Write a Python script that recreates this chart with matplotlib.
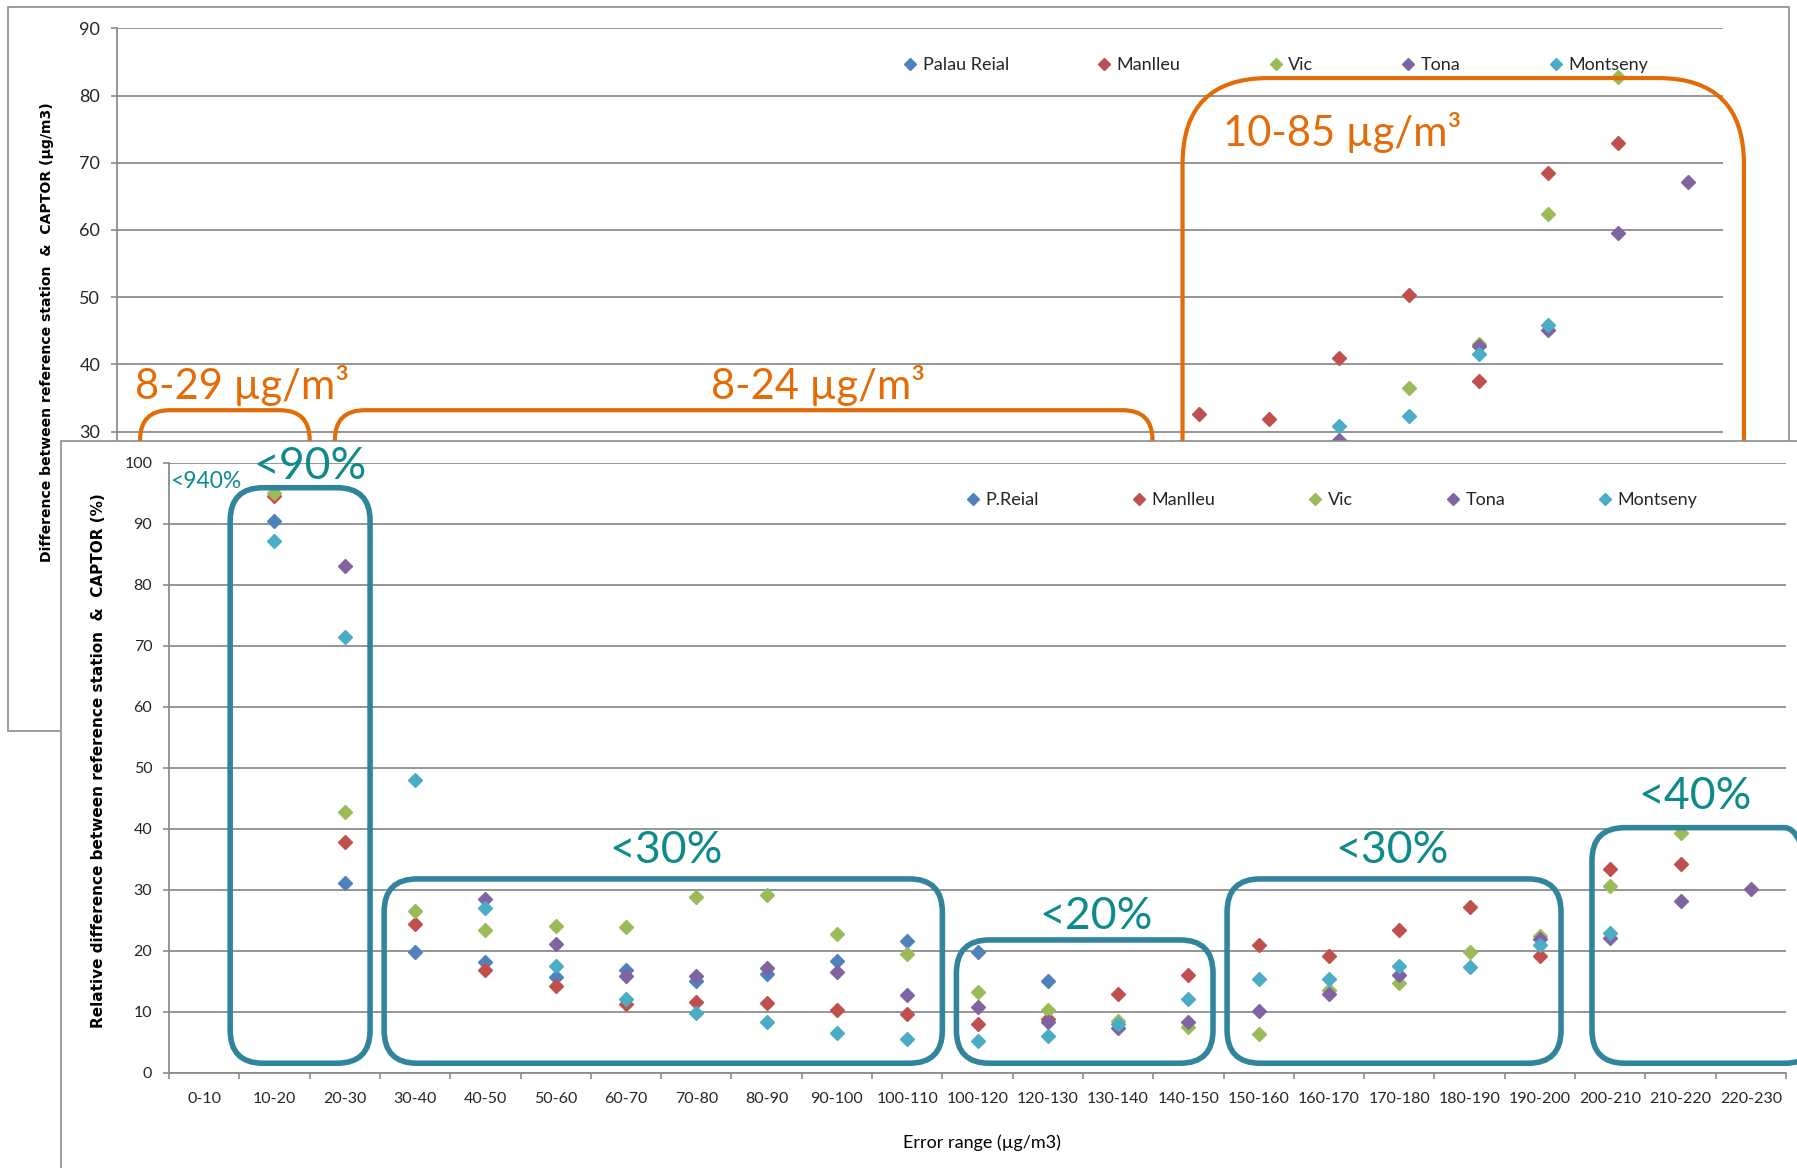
import numpy as np
import matplotlib
matplotlib.use('Agg')
import matplotlib.pyplot as plt
from matplotlib.patches import Rectangle, FancyBboxPatch
from matplotlib.transforms import IdentityTransform

plt.rcParams['font.family'] = ['Lato', 'DejaVu Sans']

W, H, DPI = 1797, 1168, 100
nan = np.nan

categories = ['0-10', '10-20', '20-30', '30-40', '40-50', '50-60', '60-70', '70-80',
              '80-90', '90-100', '100-110', '100-120', '120-130', '130-140', '140-150',
              '150-160', '160-170', '170-180', '180-190', '190-200', '200-210',
              '210-220', '220-230']

stations_abs = ['Palau Reial', 'Manlleu', 'Vic', 'Tona', 'Montseny']
stations_rel = ['P.Reial', 'Manlleu', 'Vic', 'Tona', 'Montseny']
station_colors = ['#4F81BD', '#C0504D', '#9BBB59', '#8064A2', '#4BACC6']

# absolute difference reference station vs CAPTOR (ug/m3), one value per error range
abs_palau = [nan] * 23
abs_manlleu = [nan, nan, nan, nan, nan, nan, nan, nan, nan, nan, nan, nan, nan, nan, nan,
               32.7, 31.9, 41.0, 50.4, 37.5, 68.5, 72.9, nan]
abs_vic = [nan, nan, nan, nan, nan, nan, nan, nan, nan, nan, nan, nan, nan, nan, nan,
           nan, nan, nan, 36.5, 43.1, 62.4, 82.8, nan]
abs_tona = [nan, nan, nan, nan, nan, nan, nan, nan, nan, nan, nan, nan, nan, nan, nan,
            nan, nan, 28.7, nan, 42.8, 45.1, 59.5, 67.1]
abs_montseny = [nan, nan, nan, nan, nan, nan, nan, nan, nan, nan, nan, nan, nan, nan, nan,
                nan, nan, 30.8, 32.4, 41.6, 45.9, nan, nan]

# relative difference (%)
rel_preial = [nan, 90.5, 31.2, 19.9, 18.2, 15.7, 16.8, 15.1, 16.3, 18.3, 21.7, 19.9, 15.1,
              nan, nan, nan, nan, nan, nan, nan, nan, nan, nan]
rel_manlleu = [nan, 94.5, 37.9, 24.4, 16.8, 14.3, 11.3, 11.7, 11.5, 10.4, 9.7, 8.0, 8.9,
               12.9, 16.0, 20.9, 19.2, 23.5, 27.2, 19.1, 33.5, 34.3, nan]
rel_vic = [nan, 95.0, 42.8, 26.5, 23.5, 24.1, 24.0, 28.9, 29.2, 22.7, 19.5, 13.2, 10.4,
           8.6, 7.6, 6.4, 13.6, 14.8, 19.8, 22.4, 30.7, 39.3, nan]
rel_tona = [nan, nan, 83.0, nan, 28.5, 21.1, 15.9, 15.9, 17.2, 16.5, 12.7, 10.8, 8.4,
            7.4, 8.4, 10.1, 13.0, 16.0, nan, 22.0, 22.1, 28.2, 30.1]
rel_montseny = [nan, 87.1, 71.5, 48.0, 27.0, 17.5, 12.1, 9.8, 8.3, 6.5, 5.5, 5.2, 6.0,
                8.1, 12.2, 15.4, 15.4, 17.6, 17.4, 21.0, 23.0, nan, nan]

# highlighted ranges: label, first/last x (category units), top value, label position
abs_groups = [('8-29 µg/m³', -0.17, 2.26, 33.2, 1.29, 36.8, 30),
              ('8-24 µg/m³', 2.62, 14.33, 33.2, 9.54, 36.8, 30),
              ('10-85 µg/m³', 14.76, 22.8, 82.6, 17.04, 74.5, 86)]
rel_groups = [('<90%', 0.37, 2.36, 95.9, 1.5, 99.3),
              ('<30%', 2.56, 10.5, 31.8, 6.57, 36.5),
              ('<20%', 10.7, 14.35, 21.8, 12.68, 25.6),
              ('<30%', 14.55, 19.3, 31.8, 16.9, 36.5),
              ('<40%', 19.74, 22.95, 40.2, 21.2, 45.3)]

ORANGE = '#E36C09'
TEAL_BOX = '#31849B'
TEAL_TXT = '#0F8A8A'
GRID = '#8C8C8C'
FRAME = '#8C8C8C'
TXT = '#262626'


def fig_rect(left, top, right, bottom):
    return [left / W, 1 - bottom / H, (right - left) / W, (bottom - top) / H]


def rounded_box(ax, x0, x1, y0, y1, radius, color, lw):
    (px0, py0), (px1, py1) = ax.transData.transform([(x0, y0), (x1, y1)])
    box = FancyBboxPatch((px0, py0), px1 - px0, py1 - py0,
                         boxstyle=f'round,pad=0,rounding_size={radius}',
                         transform=IdentityTransform(), fill=False,
                         ec=color, lw=lw, clip_on=False, zorder=5)
    ax.add_artist(box)


def style_axes(ax, ymin_tick, ymax, tick_size):
    ax.set_facecolor('none')
    ax.set_xlim(-0.5, len(categories) - 0.5)
    ax.set_ylim(0, ymax)
    ax.set_yticks(np.arange(ymin_tick, ymax + 1, 10))
    ax.yaxis.grid(True, color=GRID, lw=1.3)
    ax.set_axisbelow(True)
    for s in ['top', 'right']:
        ax.spines[s].set_visible(False)
    for s in ['left', 'bottom']:
        ax.spines[s].set_color(GRID)
        ax.spines[s].set_linewidth(1.3)
    ax.tick_params(axis='y', length=4, width=1.2, color=GRID, pad=8,
                   labelsize=tick_size, labelcolor=TXT)
    ax.set_xticks(range(len(categories)))
    ax.set_xticklabels(categories)
    ax.set_xticks(np.arange(-0.5, len(categories)), minor=True)
    ax.tick_params(axis='x', which='major', length=0, pad=14,
                   labelsize=11.5, labelcolor=TXT)
    ax.tick_params(axis='x', which='minor', length=4, width=1.2, color=GRID)


fig = plt.figure(figsize=(W / DPI, H / DPI), dpi=DPI)
fig.patch.set_facecolor('white')

# ---- absolute difference chart (behind) ----
fig.add_artist(Rectangle((8 / W, 1 - 731 / H), (1789 - 8) / W, (731 - 7) / H,
                         transform=fig.transFigure, fc='white', ec=FRAME, lw=1.2,
                         zorder=0.5))
ax1 = fig.add_axes(fig_rect(117, 28.3, 1723, 633.4), zorder=1)
# lower part of this chart sits under the second one
style_axes(ax1, 30, 90, 13)
ax1.tick_params(axis='x', labelbottom=False)
abs_series = [abs_palau, abs_manlleu, abs_vic, abs_tona, abs_montseny]
for name, vals, c in zip(stations_abs, abs_series, station_colors):
    ax1.plot(range(len(categories)), vals, ls='none', marker='D', ms=7.5, color=c,
             label=name, zorder=3)
ax1.legend(loc='center left', bbox_to_anchor=(903 / W, 1 - 65 / H),
           bbox_transform=fig.transFigure, ncol=5, frameon=False, fontsize=13,
           handlelength=0.8, handletextpad=0.3, columnspacing=4.86, borderpad=0,
           borderaxespad=0, markerscale=0.75, labelcolor=TXT)
for label, x0, x1, top, tx, ty, r in abs_groups:
    rounded_box(ax1, x0, x1, 0, top, r, ORANGE, 3)
    ax1.text(tx, ty, label, color=ORANGE, fontsize=30, ha='center', va='center',
             zorder=6)
fig.text(47 / W, 1 - 332 / H,
         'Difference between reference station  &  CAPTOR (µg/m3)',
         rotation=90, ha='center', va='center', fontsize=10.1, fontweight='bold',
         family='DejaVu Sans', color='black')

# ---- relative difference chart (front) ----
fig.add_artist(Rectangle((61 / W, 1 - 1250 / H), 1800 / W, (1250 - 441) / H,
                         transform=fig.transFigure, fc='white', ec=FRAME, lw=1.2,
                         zorder=2))
ax2 = fig.add_axes(fig_rect(169, 462.7, 1786, 1073), zorder=3)
style_axes(ax2, 0, 100, 11.5)
rel_series = [rel_preial, rel_manlleu, rel_vic, rel_tona, rel_montseny]
for name, vals, c in zip(stations_rel, rel_series, station_colors):
    ax2.plot(range(len(categories)), vals, ls='none', marker='D', ms=7.5, color=c,
             label=name, zorder=3, clip_on=False)
ax2.legend(loc='center left', bbox_to_anchor=(966 / W, 1 - 500 / H),
           bbox_transform=fig.transFigure, ncol=5, frameon=False, fontsize=13,
           handlelength=0.8, handletextpad=0.3, columnspacing=5.12, borderpad=0,
           borderaxespad=0, markerscale=0.75, labelcolor=TXT)
for label, x0, x1, top, tx, ty in rel_groups:
    rounded_box(ax2, x0, x1, 1.6, top, 33, TEAL_BOX, 4)
    ax2.text(tx, ty, label, color=TEAL_TXT, fontsize=32, ha='center', va='center',
             zorder=6)
ax2.text(0.02, 96.9, '<940%', color=TEAL_TXT, fontsize=16.5, ha='center', va='center')
fig.text(98.5 / W, 1 - 761 / H,
         'Relative difference between reference station  &  CAPTOR (%)',
         rotation=90, ha='center', va='center', fontsize=11, fontweight='bold',
         family='DejaVu Sans', color='black')
fig.text(982 / W, 1 - 1143 / H, 'Error range (µg/m3)', ha='center', va='center',
         fontsize=13, color='black')

fig.savefig('out.png', dpi=DPI)
